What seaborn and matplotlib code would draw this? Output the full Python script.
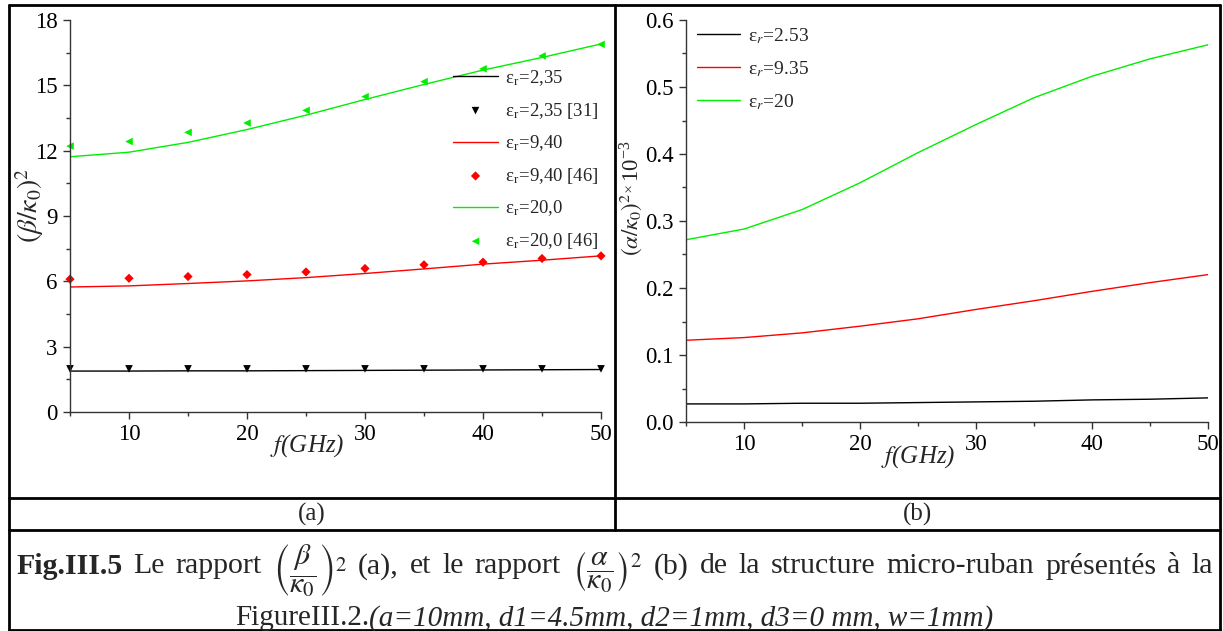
import matplotlib
matplotlib.use('Agg')
import matplotlib.pyplot as plt
from matplotlib.lines import Line2D
from matplotlib.ticker import MultipleLocator, FormatStrFormatter
import seaborn as sns
import pandas as pd

# frequency points (GHz)
freq = [5, 10, 15, 20, 25, 30, 35, 40, 45, 50]

# (a) (beta/k0)^2
beta_235 = [1.88, 1.88, 1.89, 1.89, 1.90, 1.91, 1.92, 1.93, 1.94, 1.95]
beta_235_ref = [1.98, 1.98, 1.98, 1.98, 1.98, 1.98, 1.98, 1.98, 1.98, 1.98]
beta_940 = [5.74, 5.79, 5.90, 6.02, 6.17, 6.36, 6.57, 6.79, 6.97, 7.17]
beta_940_ref = [6.10, 6.14, 6.22, 6.31, 6.43, 6.59, 6.76, 6.88, 7.05, 7.17]
beta_200 = [11.72, 11.93, 12.38, 12.97, 13.63, 14.35, 15.04, 15.70, 16.28, 16.90]
beta_200_ref = [12.21, 12.42, 12.84, 13.27, 13.85, 14.48, 15.17, 15.76, 16.35, 16.88]

# (b) (alpha/k0)^2 x 10^-3
alpha_253 = [0.027, 0.027, 0.028, 0.028, 0.029, 0.030, 0.031, 0.033, 0.034, 0.036]
alpha_935 = [0.122, 0.126, 0.133, 0.143, 0.154, 0.168, 0.181, 0.195, 0.208, 0.220]
alpha_20 = [0.272, 0.288, 0.317, 0.357, 0.402, 0.444, 0.484, 0.516, 0.542, 0.563]

df = pd.DataFrame({'f': freq,
                   'b235': beta_235, 'b235r': beta_235_ref,
                   'b940': beta_940, 'b940r': beta_940_ref,
                   'b200': beta_200, 'b200r': beta_200_ref,
                   'a253': alpha_253, 'a935': alpha_935, 'a20': alpha_20})

sns.set_style('ticks')
plt.rcParams['font.family'] = ['Liberation Serif', 'DejaVu Serif']
plt.rcParams['mathtext.fontset'] = 'stix'
plt.rcParams['axes.linewidth'] = 1.0
plt.rcParams['axes.edgecolor'] = '#333333'

W, H = 1223, 631
fig = plt.figure(figsize=(W / 100, H / 100), dpi=100)


def fx(px):
    return px / W


def fy(py):
    return 1 - py / H


RED = '#ff0000'
GREEN = '#00ee00'

# ---------- (a) ----------
ax1 = fig.add_axes([fx(70), fy(412), fx(601) - fx(70), fy(20) - fy(412)])
sns.lineplot(data=df, x='f', y='b235', ax=ax1, color='black', lw=1, label=r'ε$_\mathregular{r}$=2,35')
sns.scatterplot(data=df, x='f', y='b235r', ax=ax1, color='black', marker='v', s=30, edgecolor='none',
                label=r'ε$_\mathregular{r}$=2,35 [31]', clip_on=False)
sns.lineplot(data=df, x='f', y='b940', ax=ax1, color=RED, lw=1, label=r'ε$_\mathregular{r}$=9,40')
sns.scatterplot(data=df, x='f', y='b940r', ax=ax1, color=RED, marker='D', s=22, edgecolor='none',
                label=r'ε$_\mathregular{r}$=9,40 [46]', clip_on=False)
sns.lineplot(data=df, x='f', y='b200', ax=ax1, color=GREEN, lw=1, label=r'ε$_\mathregular{r}$=20,0')
sns.scatterplot(data=df, x='f', y='b200r', ax=ax1, color=GREEN, marker='<', s=30, edgecolor='none',
                label=r'ε$_\mathregular{r}$=20,0 [46]', clip_on=False)
ax1.set_xlim(5, 50)
ax1.set_ylim(0, 18)
ax1.yaxis.set_major_locator(MultipleLocator(3))
ax1.yaxis.set_minor_locator(MultipleLocator(1.5))
ax1.set_xlabel('')
ax1.set_ylabel('')
ax1.legend(loc='upper left', bbox_to_anchor=(fx(453), fy(68)), bbox_transform=fig.transFigure,
           frameon=False, fontsize=13.5, handlelength=2.4, handletextpad=0.4, labelspacing=0.68,
           borderpad=0, borderaxespad=0)

# ---------- (b) ----------
ax2 = fig.add_axes([fx(686), fy(422), fx(1208) - fx(686), fy(20) - fy(422)])
sns.lineplot(data=df, x='f', y='a253', ax=ax2, color='black', lw=1, label=r'ε$_r$=2.53')
sns.lineplot(data=df, x='f', y='a935', ax=ax2, color=RED, lw=1, label=r'ε$_r$=9.35')
sns.lineplot(data=df, x='f', y='a20', ax=ax2, color=GREEN, lw=1, label=r'ε$_r$=20')
ax2.set_xlim(5, 50)
ax2.set_ylim(0, 0.6)
ax2.yaxis.set_major_locator(MultipleLocator(0.1))
ax2.yaxis.set_minor_locator(MultipleLocator(0.05))
ax2.yaxis.set_major_formatter(FormatStrFormatter('%.1f'))
ax2.set_xlabel('')
ax2.set_ylabel('')
ax2.legend(loc='upper left', bbox_to_anchor=(fx(697), fy(26)), bbox_transform=fig.transFigure,
           frameon=False, fontsize=14, handlelength=2.2, handletextpad=0.4, labelspacing=0.68,
           borderpad=0, borderaxespad=0)

for ax in (ax1, ax2):
    sns.despine(ax=ax)
    ax.xaxis.set_major_locator(MultipleLocator(10))
    ax.xaxis.set_minor_locator(MultipleLocator(5))
    ax.tick_params(which='major', direction='out', length=5, width=1, labelsize=16.5, colors='#333333',
                   labelcolor='black', pad=4)
    ax.tick_params(which='minor', direction='out', length=3, width=1, colors='#333333')

# axis titles
fig.text(fx(307), fy(446), '$f$(GHz)', fontsize=18, style='italic', ha='center', va='center')
fig.text(fx(918), fy(457), '$f$(GHz)', fontsize=18, style='italic', ha='center', va='center')
fig.text(fx(30), fy(205), r'$(\beta/\kappa_0)^2$', fontsize=20, rotation=90, ha='center', va='center')
fig.text(fx(631), fy(198), r'$(\alpha/\kappa_0)^{2_\times}\mathregular{10^{-3}}$', fontsize=16.5,
         rotation=90, ha='center', va='center')

# table frame
frame = [((9, 5), (1220, 5)), ((9, 630), (1220, 630)), ((9, 5), (9, 630)), ((1220, 5), (1220, 630)),
         ((615, 5), (615, 530)), ((9, 498), (1220, 498)), ((9, 530), (1220, 530))]
for (x0, y0), (x1, y1) in frame:
    fig.add_artist(Line2D([fx(x0), fx(x1)], [fy(y0), fy(y1)], color='black', lw=2,
                          transform=fig.transFigure))

fig.text(fx(312), fy(514), '(a)', fontsize=18, ha='center', va='center')
fig.text(fx(918), fy(514), '(b)', fontsize=18, ha='center', va='center')

renderer = fig.canvas.get_renderer()

# first caption line, justified between the cell borders
words = [('Fig.III.5', 'bold'), ('Le', 'normal'), ('rapport', 'normal'),
         (r'$\left(\dfrac{\beta}{\kappa_0}\right)^2$', 'normal'), ('(a),', 'normal'), ('et', 'normal'),
         ('le', 'normal'), ('rapport', 'normal'),
         (r'$\left(\dfrac{\alpha}{\kappa_0}\right)^2$', 'normal'), ('(b)', 'normal'), ('de', 'normal'),
         ('la', 'normal'), ('structure', 'normal'), ('micro-ruban', 'normal'), ('présentés', 'normal'),
         ('à', 'normal'), ('la', 'normal')]
texts = [fig.text(0, fy(563), w, fontsize=21.5, fontweight=wt, ha='left', va='center_baseline')
         for w, wt in words]
widths = [t.get_window_extent(renderer).width for t in texts]
left, right = 16, 1213
gap = (right - left - sum(widths)) / (len(texts) - 1)
x = left
for t, w in zip(texts, widths):
    t.set_x(fx(x))
    x += w + gap

# second caption line: upright part + italic part
t1 = fig.text(0, fy(615), 'FigureIII.2.', fontsize=21, ha='left', va='center_baseline')
t2 = fig.text(0, fy(615), '(a=10mm, d1=4.5mm, d2=1mm, d3=0 mm, w=1mm)', fontsize=21,
              style='italic', ha='left', va='center_baseline')
w1 = t1.get_window_extent(renderer).width
w2 = t2.get_window_extent(renderer).width
start = 614 - (w1 + w2) / 2
t1.set_x(fx(start))
t2.set_x(fx(start + w1))

fig.savefig('out.png', dpi=100)
